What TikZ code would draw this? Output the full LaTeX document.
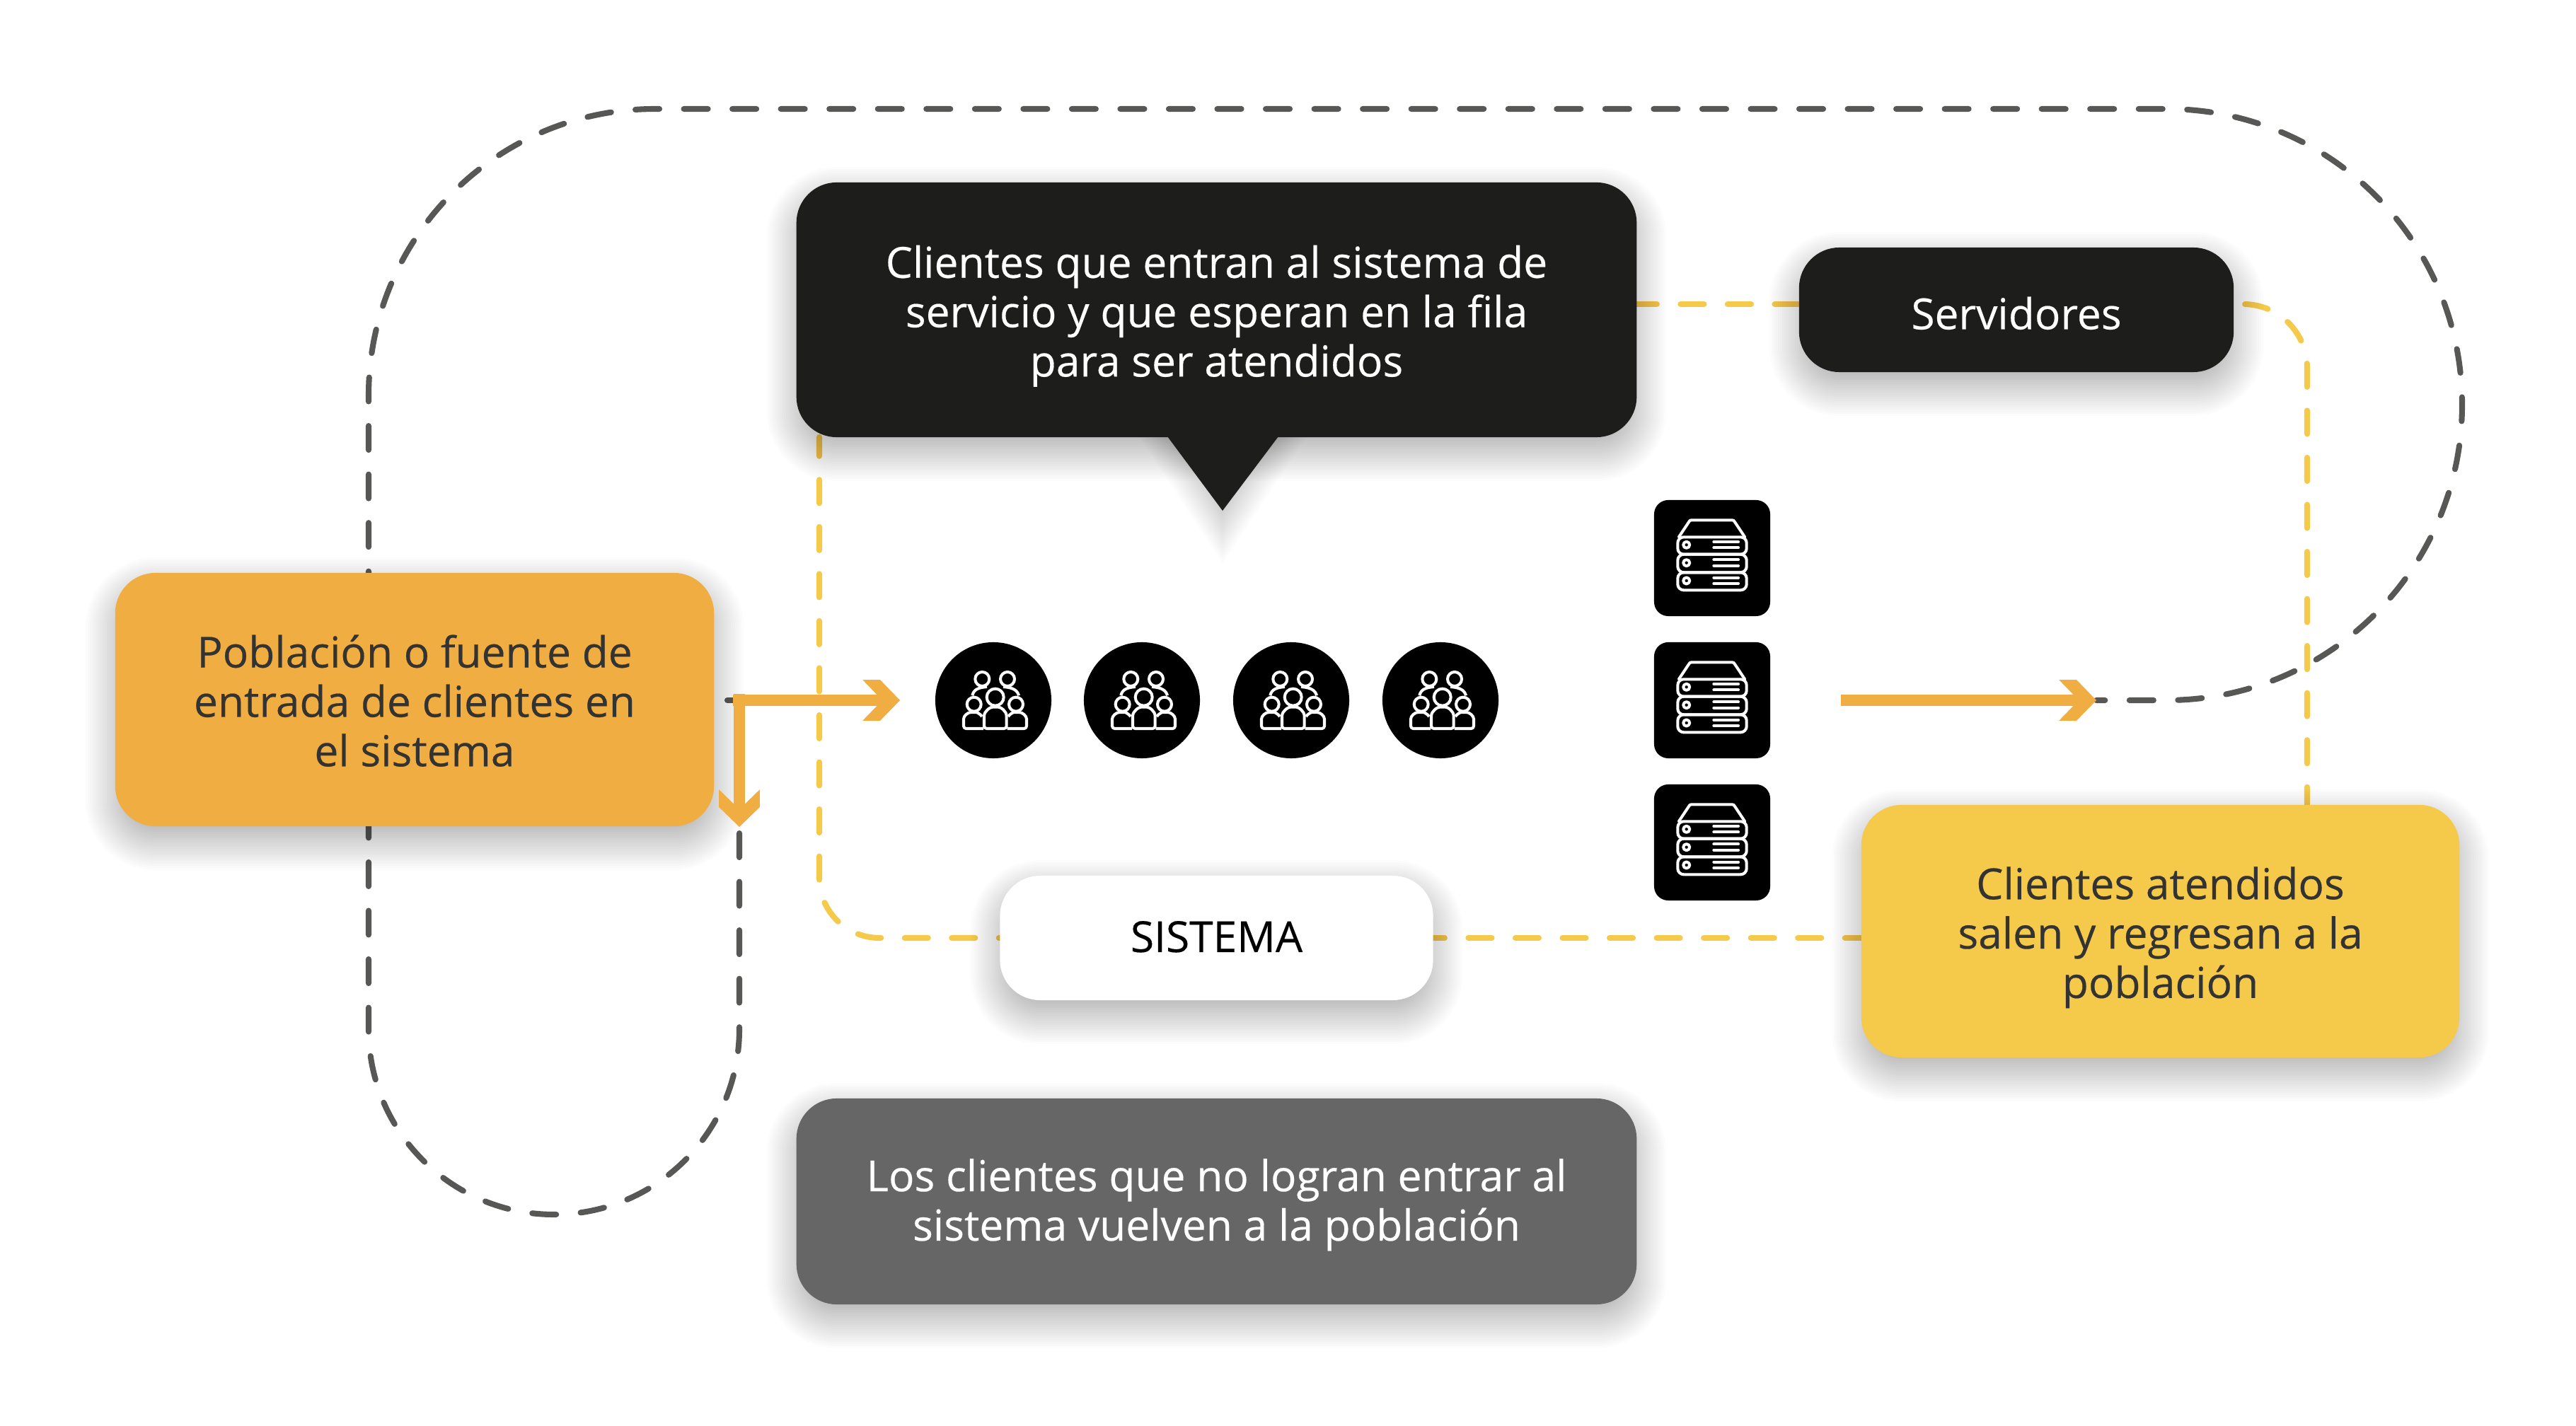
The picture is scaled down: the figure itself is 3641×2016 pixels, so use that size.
\documentclass[tikz,border=0pt]{standalone}
\usepackage{fontspec}
\setmainfont{Open Sans}[FakeBold=0.3]
\usetikzlibrary{arrows.meta,backgrounds}
\definecolor{negrocol}{HTML}{1D1D1B}
\definecolor{griscol}{HTML}{666666}
\definecolor{lineacol}{HTML}{575756}
\definecolor{naranjacol}{HTML}{F0AD42}
\definecolor{amarillocol}{HTML}{F5C94A}
\definecolor{textocol}{HTML}{333332}

\pgfdeclarelayer{sombras}
\pgfsetlayers{background,sombras,main}

\pgfdeclarearrow{
  name=Punta,
  setup code={
    \pgfarrowssettipend{0pt}
    \pgfarrowssetlineend{-9pt}
    \pgfarrowssetvisualbackend{-15pt}
    \pgfarrowssetbackend{-15pt}
  },
  drawing code={
    \pgfsetfillcolor{naranjacol}
    \pgfpathmoveto{\pgfqpoint{0pt}{0pt}}
    \pgfpathlineto{\pgfqpoint{-7.94pt}{8.2pt}}
    \pgfpathlineto{\pgfqpoint{-15pt}{8.2pt}}
    \pgfpathlineto{\pgfqpoint{-9.36pt}{2.4pt}}
    \pgfpathlineto{\pgfqpoint{-9.36pt}{-2.4pt}}
    \pgfpathlineto{\pgfqpoint{-15pt}{-8.2pt}}
    \pgfpathlineto{\pgfqpoint{-7.94pt}{-8.2pt}}
    \pgfpathclose
    \pgfusepathqfill
  },
}

% sombra difusa: rectangulos anidados bajo la caja
\newcommand{\sombracaja}[1]{
  \begin{pgfonlayer}{sombras}
    \foreach \d in {42,39,...,-21} {
      \pgfmathsetmacro{\radio}{max(0.57+\d*0.01,0.1)}
      \fill[black, fill opacity=0.012, rounded corners=\radio cm]
        ([shift={(-\d,20+\d)}]#1.south west) rectangle ([shift={(\d,20-\d)}]#1.north east);
    }
  \end{pgfonlayer}
}

\tikzset{
  caja/.style={rectangle, rounded corners=0.57cm, inner sep=0pt, outer sep=0pt,
    align=center, font=\fontsize{17.2}{19.85}\selectfont},
  lineagris/.style={lineacol, line width=2.3pt, line cap=round,
    dash pattern=on 0.34cm off 0.345cm},
  lineaamarilla/.style={amarillocol, line width=2.3pt, line cap=round,
    dash pattern=on 0.33cm off 0.335cm},
  flecha/.style={naranjacol, line width=4.8pt, -{Punta}},
  circulo/.style={circle, fill=black, minimum size=1.64cm, inner sep=0pt},
  cuadro/.style={rectangle, fill=black, rounded corners=0.2cm, minimum size=1.64cm, inner sep=0pt},
  gente/.pic={
    \begin{scope}[white, line width=1.15pt, line join=round]
      \draw (-15.7,-30) circle[radius=10];
      \draw (20,-30) circle[radius=10];
      \draw (2.7,-4.3) circle[radius=12];
      \draw (-27.3,5.7) circle[radius=10];
      \draw (32,5.7) circle[radius=10];
      \draw (-29.7,-6.7) .. controls (-28,-14) and (-23,-18) .. (-9,-19);
      \draw (36,-6.7) .. controls (34,-14) and (28,-18) .. (14,-19);
      \draw[rounded corners=1pt] (-13,40) -- (-13,26) .. controls (-13,15) and (-4,9.5) .. (3,9.5)
        .. controls (10,9.5) and (18.7,15) .. (18.7,26) -- (18.7,40) -- cycle;
      \draw[rounded corners=1pt] (-14,40) -- (-42,40) -- (-42,30)
        .. controls (-42,22) and (-36,17) .. (-28,17) .. controls (-23,17) and (-19,19) .. (-16,23);
      \draw[rounded corners=1pt] (19.5,40) -- (47,40) -- (47,30)
        .. controls (47,22) and (41,17) .. (33,17) .. controls (28,17) and (24,19) .. (21,23);
    \end{scope}
  },
  servidor/.pic={
    \begin{scope}[white, line width=1.15pt, line join=round, line cap=round]
      \draw (-47,-30) -- (-33,-51) .. controls (-32,-53) and (-31,-53.7) .. (-29,-53.7)
        -- (28,-53.7) .. controls (30,-53.7) and (31,-53) .. (32,-51) -- (46,-30);
      \foreach \ya/\yb in {-29.7/-5.3,-5.3/20.3,20.3/45.3} {
        \draw[rounded corners=2.4pt] (-48.7,\ya) rectangle (48.7,\yb);
      }
      \foreach \yc in {-18.7,6.7,32} {
        \draw (-36.3,\yc) circle[radius=4.5];
        \draw (2.3,\yc-4.3) -- (37,\yc-4.3);
        \draw (2.3,\yc+4) -- (37,\yc+4);
      }
    \end{scope}
  },
}

\begin{document}
\begin{tikzpicture}[x=0.01cm, y=-0.01cm]

    \useasboundingbox (0,0) rectangle (3641,2016);

    %% Cajas de texto
    \node[caja, fill=naranjacol, text=textocol, minimum width=8.46cm, minimum height=3.58cm]
      (poblacion) at (586,989) {\rule{0pt}{14.1pt}Población o fuente de\\entrada de clientes en\\el sistema};
    \node[caja, fill=negrocol, text=white, minimum width=11.87cm, minimum height=3.6cm]
      (entrada) at (1719.5,438) {\rule{0pt}{18.1pt}Clientes que entran al sistema de\\servicio y que esperan en la fila\\para ser atendidos};
    \node[caja, fill=negrocol, text=white, minimum width=6.14cm, minimum height=1.76cm]
      (servidores) at (2850,438) {\rule{0pt}{15.8pt}Servidores};
    \node[caja, fill=amarillocol, text=textocol, minimum width=8.45cm, minimum height=3.57cm]
      (atendidos) at (3053.5,1316.5) {\rule{0pt}{18.1pt}Clientes atendidos\\salen y regresan a la\\población};
    \node[caja, fill=white, text=black, minimum width=6.12cm, minimum height=1.76cm]
      (sistema) at (1719.5,1326) {\rule[-1.1pt]{0pt}{1.1pt}SISTEMA};
    \node[caja, fill=griscol, text=white, minimum width=11.87cm, minimum height=2.91cm]
      (rechazados) at (1719.5,1698.5) {\rule{0pt}{15.8pt}Los clientes que no logran entrar al\\sistema vuelven a la población};

    \foreach \nombre in {poblacion,entrada,servidores,atendidos,sistema,rechazados} {
      \sombracaja{\nombre}
    }

    %% Pico de la caja negra
    \begin{pgfonlayer}{sombras}
      \foreach \d in {32,29,...,-21} {
        \fill[black, fill opacity=0.012] (1650-1.25*\d,617) -- (1728,742+1.68*\d) -- (1807+1.25*\d,617) -- cycle;
      }
    \end{pgfonlayer}
    \fill[negrocol] (1650,617) -- (1728,722) -- (1807,617) -- cycle;

    %% Clientes en fila
    \foreach \nombre/\cx in {a/1404,b/1614,c/1825,d/2036} {
      \node[circulo] (cliente\nombre) at (\cx,990) {};
      \pic at (cliente\nombre) {gente};
    }

    %% Servidores
    \foreach \nombre/\cy in {a/789,b/990,c/1191} {
      \node[cuadro] (servidor\nombre) at (2420,\cy) {};
      \pic at (servidor\nombre) {servidor};
    }

    %% Puntos libres de las flechas
    \coordinate (salida) at (1036,990);
    \coordinate (codo) at (1045,981);
    \coordinate (tipfila) at (1272,990);
    \coordinate (tiprechazo) at (1045,1169);
    \coordinate (inicioservicio) at (2602,990);
    \coordinate (tipservicio) at (2963,990);
    \coordinate (filaamarilla) at (0,430);
    \coordinate (columnaamarilla) at (3261,1138);
    \coordinate (columnaentrada) at (1158,618);

    \begin{pgfonlayer}{background}
      \fill[white] (0,0) rectangle (3641,2016);

      %% Recorrido de los clientes
      \draw[lineagris, dash phase=0.595cm] (tiprechazo) -- (1045,1455)
        arc[start angle=0, end angle=180, radius=262] -- (521,559)
        arc[start angle=180, end angle=270, radius=405] -- (3062,154)
        arc[start angle=270, end angle=450, radius=418] -- (tipservicio);
      \draw[lineagris] (1028,990) -- (salida);

      %% Contorno del sistema
      \draw[lineaamarilla, dash phase=0.045cm] (entrada.east |- filaamarilla) -- (servidores.west |- filaamarilla);
      \draw[lineaamarilla, dash phase=0.505cm, rounded corners=0.9cm] (servidores.east |- filaamarilla) -| (columnaamarilla);
      \draw[lineaamarilla, dash phase=0.1cm] (atendidos.west |- sistema.east) -- (sistema.east);
      \draw[lineaamarilla, dash phase=0.315cm, rounded corners=0.85cm] (sistema.west) -| (columnaentrada);
    \end{pgfonlayer}

    %% Flechas de flujo
    \draw[flecha] (salida) -- (tipfila);
    \draw[flecha] (codo) -- (tiprechazo);
    \draw[flecha] (inicioservicio) -- (tipservicio);

\end{tikzpicture}
\end{document}
